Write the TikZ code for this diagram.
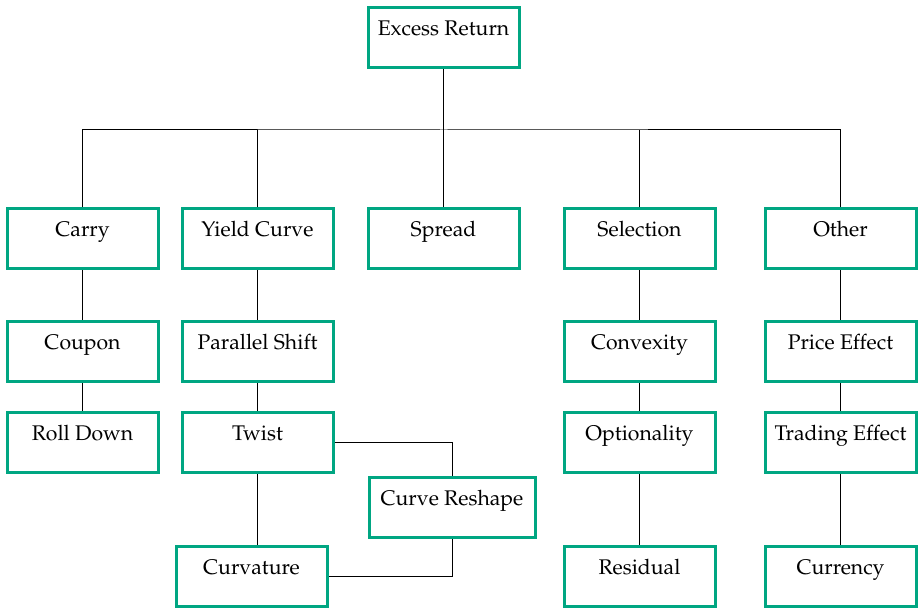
\documentclass[tikz,border=0pt]{standalone}
\usepackage[T1]{fontenc}
\usepackage{mathpazo}
\usepackage{tikz}
\definecolor{boxgreen}{RGB}{0,166,130}

\begin{document}
\begin{tikzpicture}[
    x=0.5pt, y=-0.5pt,
    box/.style={draw=boxgreen, line width=1.5pt, rectangle, minimum width=75.5pt,
                text height=7.4pt, text depth=10pt, inner ysep=6.3pt,
                font=\fontsize{10.6}{12.7}\selectfont},
    link/.style={draw=black, line width=0.5pt}
]
   \useasboundingbox (0,0) rectangle (918,608);

   % Top
   \node[box] (excess) at (443.5,38) {Excess Return};

   % First level
   \node[box] (carry)     at (82.5,239)  {Carry};
   \node[box] (yield)     at (257.5,239) {Yield Curve};
   \node[box] (spread)    at (443.5,239) {Spread};
   \node[box] (selection) at (639.5,239) {Selection};
   \node[box] (other)     at (840.5,239) {Other};

   % Second level
   \node[box] (coupon)    at (82.5,352)  {Coupon};
   \node[box] (parallel)  at (257.5,352) {Parallel Shift};
   \node[box] (convexity) at (639.5,352) {Convexity};
   \node[box] (price)     at (840.5,352) {Price Effect};

   % Third level
   \node[box] (rolldown)    at (82.5,443)  {Roll Down};
   \node[box] (twist)       at (257.5,443) {Twist};
   \node[box] (optionality) at (639.5,443) {Optionality};
   \node[box] (trading)     at (840.5,443) {Trading Effect};

   \node[box, minimum width=83pt] (reshape) at (452,508) {Curve Reshape};

   % Bottom level
   \node[box] (curvature) at (251.5,577) {Curvature};
   \node[box] (residual)  at (639.5,577) {Residual};
   \node[box] (currency)  at (840.5,577) {Currency};

   % Bus below the top box
   \coordinate (bus) at (443.5,130);
   \path[link] (excess) -- (spread);
   \path[link] (carry.north) |- (bus) -| (other.north);
   \path[link] (yield.north) -- (yield.north |- bus);
   \path[link] (selection.north) -- (selection.north |- bus);

   % Columns
   \path[link] (carry) -- (coupon);
   \path[link] (coupon) -- (rolldown);
   \path[link] (yield) -- (parallel);
   \path[link] (parallel) -- (twist);
   \path[link] (twist.south) -- (twist.south |- curvature.north);
   \path[link] (selection) -- (convexity);
   \path[link] (convexity) -- (optionality);
   \path[link] (optionality) -- (residual);
   \path[link] (other) -- (price);
   \path[link] (price) -- (trading);
   \path[link] (trading) -- (currency);

   % Curve reshape loop
   \path[link] (twist.east) -| (reshape.north);
   \path[link] (reshape.south) |- (curvature.east);

\end{tikzpicture}
\end{document}
